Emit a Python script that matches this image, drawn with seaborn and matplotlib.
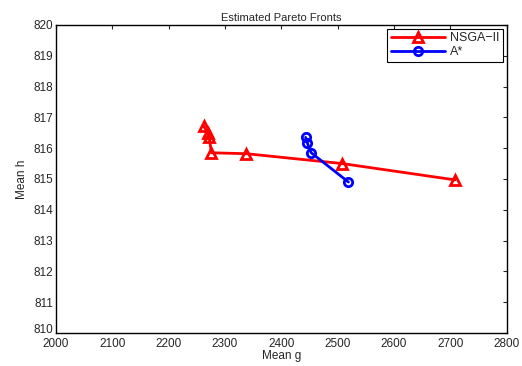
import matplotlib
matplotlib.use("Agg")
import matplotlib.pyplot as plt
import matplotlib.transforms as mtransforms
import seaborn as sns
import pandas as pd

nsga_g = [2262, 2270, 2272, 2276, 2338, 2508, 2708]
nsga_h = [816.72, 816.48, 816.35, 815.85, 815.82, 815.5, 814.97]
astar_g = [2443, 2446, 2453, 2519]
astar_h = [816.35, 816.17, 815.85, 814.9]

xticks = [2000, 2100, 2200, 2300, 2400, 2500, 2600, 2700, 2800]
yticks = [810, 811, 812, 813, 814, 815, 816, 817, 818, 819, 820]

sns.set_style("white")
plt.rcParams['font.family'] = ['Liberation Sans', 'DejaVu Sans']

df_n = pd.DataFrame({"g": nsga_g, "h": nsga_h})
df_a = pd.DataFrame({"g": astar_g, "h": astar_h})

fig = plt.figure(figsize=(5.22, 3.66), dpi=100)
ax = fig.add_axes([0.107, 0.090, 0.864, 0.842])

sns.lineplot(data=df_n, x="g", y="h", sort=False, estimator=None, ax=ax,
             color="red", linewidth=2, marker="^", markersize=7,
             markerfacecolor="none", markeredgecolor="red", markeredgewidth=2,
             label="NSGA\u2212II")
sns.lineplot(data=df_a, x="g", y="h", sort=False, estimator=None, ax=ax,
             color="blue", linewidth=2, marker="o", markersize=6,
             markerfacecolor="none", markeredgecolor="blue", markeredgewidth=2,
             label="A*")

ax.set_xlim(2000, 2800)
ax.set_ylim(810, 820)
ax.set_xticks(xticks)
ax.set_yticks(yticks)
ax.tick_params(direction="in", top=True, right=True, labelsize=8.5, length=3,
               width=0.8)
ax.tick_params(axis="y", pad=2)
ax.tick_params(axis="x", pad=3.5)
for s in ax.spines.values():
    s.set_visible(True)
    s.set_color("black")
    s.set_linewidth(1.0)
ax.set_xlabel("Mean g", fontsize=8.5, labelpad=0)
ax.set_ylabel("Mean h", fontsize=8.5, labelpad=4)
ax.set_title("Estimated Pareto Fronts", fontsize=8, pad=3)

# nudge the lowest y tick label up so it does not collide with "2000"
fig.canvas.draw()
lbl0 = ax.get_yticklabels()[0]
lbl0.set_transform(lbl0.get_transform() +
                   mtransforms.ScaledTranslation(0, 3 / 72, fig.dpi_scale_trans))

leg = ax.legend(loc="upper right", fontsize=9, frameon=True, fancybox=False,
                edgecolor="black", framealpha=1, borderpad=0.3,
                handlelength=4.3, handletextpad=0.4, labelspacing=0.15,
                borderaxespad=0.3)
leg.get_frame().set_linewidth(0.8)

fig.savefig("out.png", dpi=100)
